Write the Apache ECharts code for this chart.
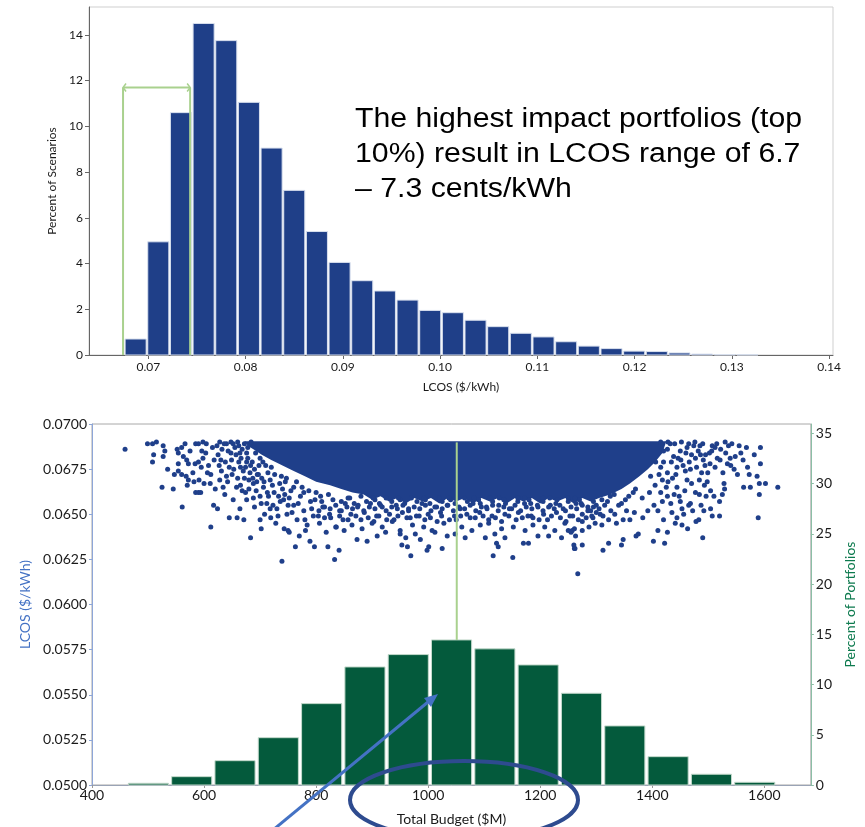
<!DOCTYPE html>
<html><head><meta charset="utf-8">
<script src="https://cdn.jsdelivr.net/npm/echarts@6/dist/echarts.min.js"></script>
<style>html,body{margin:0;padding:0;background:#fff}#c{width:865px;height:827px}</style>
</head><body><div id="c"></div>
<script>
// ---------- Top: LCOS histogram ----------
const lcosBinStart = 0.06753;
const lcosBinWidth = 0.00233;
const lcosPercent = [0.7, 4.95, 10.6, 14.5, 13.75, 11.05, 9.05, 7.2, 5.4, 4.05, 3.25, 2.8, 2.4, 1.95, 1.85, 1.52, 1.24, 0.95, 0.79, 0.58, 0.39, 0.28, 0.17, 0.15, 0.09, 0.04, 0.02, 0.01];
const lcosTicks = [0.07, 0.08, 0.09, 0.10, 0.11, 0.12, 0.13, 0.14];
const scenarioTicks = [0, 2, 4, 6, 8, 10, 12, 14];
const top10Range = [0.0674, 0.0743];
const top10BracketLevel = 11.7;
const annotationLines = ['The highest impact portfolios (top', '10%) result in LCOS range of 6.7', '\u2013 7.3 cents/kWh'];

// ---------- Bottom: budget histogram + LCOS scatter ----------
const budgetBinStart = 462;
const budgetBinWidth = 77.3;
const portfolioPercent = [0.17, 0.83, 2.42, 4.71, 8.1, 11.75, 12.98, 14.44, 13.55, 11.95, 9.13, 5.88, 2.82, 1.07, 0.27];
const budgetTicks = [400, 600, 800, 1000, 1200, 1400, 1600];
const lcosLeftTicks = [0.05, 0.0525, 0.055, 0.0575, 0.06, 0.0625, 0.065, 0.0675, 0.07];
const portfolioTicks = [0, 5, 10, 15, 20, 25, 30, 35];
const peakBudget = 1051;
const peakLinePercent = [14.44, 34.1];

// densest part of the scatter cloud (outline)
const denseCoreOutline = [[672,0.06905],[1425,0.06905],[1418,0.0684],[1405,0.0679],[1392,0.0675],[1377,0.0671],[1360,0.0667],[1345,0.0664],[1325,0.0661],[1305,0.0659],
[1290,0.0657],[1275,0.0659],[1260,0.0656],[1245,0.0659],[1230,0.0657],[1215,0.0659],[1200,0.0656],[1185,0.0659],[1170,0.0657],[1155,0.0659],[1140,0.0656],[1125,0.0659],[1110,0.0657],[1095,0.0659],[1080,0.0656],[1065,0.0659],[1050,0.0657],[1035,0.0659],[1020,0.0656],[1005,0.0659],[990,0.0657],[975,0.0659],[960,0.0656],[945,0.0659],[930,0.0657],[915,0.0660],[900,0.0658],[885,0.0661],
[865,0.0662],[845,0.0664],[825,0.0666],[800,0.0668],[780,0.0671],[760,0.0674],[740,0.0677],[720,0.0680],[703,0.0683],[688,0.0686],[678,0.0688]];

const portfolioPoints = [
[459,0.0686],[499,0.0689],[508,0.0689],[515,0.0690],[508,0.0679],[510,0.0683],[527,0.0688],[530,0.0685],[527,0.0682],[535,0.0675],[525,0.0665],[545,0.0664],[552,0.0686],[554,0.0684],[547,0.0672],[554,0.0674],[560,0.0672],[566,0.0689],[561,0.0654],[563,0.0682],[569,0.0680],[572,0.0678],[568,0.0671],[572,0.0669],[570,0.0666],[554,0.0678],[585,0.0689],[590,0.0689],[598,0.0690],[604,0.0689],[584,0.0678],[590,0.0679],[598,0.0681],[585,0.0662],[590,0.0662],[594,0.0662],[582,0.0668],[591,0.0669],[600,0.0667],[608,0.0677],[611,0.0667],[612,0.0643],[615,0.0687],[617,0.0655],[624,0.0653],[623,0.0688],[627,0.0677],[631,0.0674],[634,0.0665],[637,0.0661],[640,0.0689],[643,0.0685],[645,0.0648],[649,0.0680],[652,0.0658],[659,0.0648],[671,0.0647],[683,0.0637],[702,0.0642],[719,0.0648],[739,0.0624],[743,0.0642],[752,0.0640],[763,0.0632],[781,0.0641],[789,0.0635],[797,0.0632],[821,0.0632],[833,0.0625],
[665,0.0676],[672,0.0670],[680,0.0664],[688,0.0667],[695,0.0672],[700,0.0660],[706,0.0665],[712,0.0656],[718,0.0669],[725,0.0662],[730,0.0653],[735,0.0667],[742,0.0658],[748,0.0650],[755,0.0663],[760,0.0655],[766,0.0647],[772,0.0660],[778,0.0652],[784,0.0644],[790,0.0657],[795,0.0649],[800,0.0662],[806,0.0645],[812,0.0654],[818,0.0640],[824,0.0650],[830,0.0658],[836,0.0643],[842,0.0652],[676,0.0658],[690,0.0654],[708,0.0650],[728,0.0645],[750,0.0641],[770,0.0638],[660,0.0670],[668,0.0663],[682,0.0673],[698,0.0677],[714,0.0673],[738,0.0671],[648,0.0690],[660,0.0690],[672,0.0689],[655,0.0687],[668,0.0686],[684,0.0690],[678,0.0681],[692,0.0684],[705,0.0679],[720,0.0676],[745,0.0668],[760,0.0665],[778,0.0662],
[625,0.0683],[632,0.0686],[638,0.0679],[645,0.0676],[650,0.0672],[657,0.0683],[662,0.0679],[665,0.0666],[674,0.0676],[676,0.0684],[680,0.0669],[686,0.0679],[690,0.0675],[694,0.0668],[700,0.0681],[703,0.0670],[710,0.0677],[713,0.0662],[722,0.0666],[726,0.0672],[733,0.0660],[740,0.0664],[747,0.0670],[752,0.0659],[765,0.0668],[775,0.0665],[787,0.0663],[798,0.0658],[808,0.0660],[815,0.0648],[822,0.0661],[750,0.0655],[732,0.0649],[718,0.0653],[700,0.0647],[688,0.0659],[664,0.0653],[640,0.0671],[628,0.0669],[618,0.0680],[606,0.0673],[596,0.0685],
[560,0.0687],[575,0.0685],[580,0.0673],[595,0.0676],[603,0.0684],[612,0.0672],[620,0.0664],[630,0.0680],[636,0.0689],[642,0.0668],[648,0.0684],[653,0.0675],[658,0.0665],[662,0.0688],[666,0.0681],[670,0.0674],[674,0.0662],[678,0.0687],[683,0.0677],[687,0.0670],[693,0.0663],[697,0.0672],[702,0.0656],[707,0.0668],[715,0.0660],[723,0.0655],[736,0.0657],[744,0.0661],[757,0.0651],[768,0.0656],[780,0.0647],[792,0.0653],[804,0.0649],[810,0.0657],[628,0.0690],[652,0.0689],[664,0.0684],[676,0.0679],
[841,0.0630],[969,0.0627],[953,0.0633],[963,0.0632],[998,0.0630],[1001,0.0632],[1025,0.0631],[1116,0.0627],[1151,0.0626],[1267,0.0617],[1125,0.0632],[1122,0.0634],[1170,0.0634],[1179,0.0634],[1260,0.0633],[1261,0.0631],
[873,0.0636],[891,0.0635],[909,0.0638],[924,0.0640],[950,0.0639],[960,0.0637],[977,0.0639],[986,0.0636],[1012,0.0640],[1034,0.0638],[1048,0.0639],[1066,0.0637],[1102,0.0637],[1119,0.0639],[1137,0.0637],[1196,0.0638],[1215,0.0638],[1238,0.0637],[1250,0.0641],
[835,0.0643],[850,0.0641],[864,0.0644],[882,0.0642],[900,0.0645],[918,0.0643],[936,0.0646],[950,0.0641],[972,0.0644],[992,0.0643],[1007,0.0641],[1028,0.0645],[1060,0.0643],[1078,0.0641],[1093,0.0644],[1108,0.0645],[1131,0.0642],[1152,0.0643],[1173,0.0641],[1187,0.0644],[1208,0.0643],[1226,0.0641],[1244,0.0645],[1261,0.0642],
[852,0.0656],[874,0.0654],[897,0.0656],[918,0.0654],[943,0.0655],[965,0.0653],[989,0.0656],[1012,0.0654],[1034,0.0655],[1057,0.0653],[1080,0.0656],[1104,0.0654],[1126,0.0655],[1149,0.0653],[1172,0.0656],[1196,0.0654],[1218,0.0655],[1241,0.0653],[1264,0.0656],[1285,0.0654],
[862,0.0650],[886,0.0651],[908,0.0649],[931,0.0650],[954,0.0651],[979,0.0649],[1000,0.0650],[1022,0.0651],[1047,0.0649],[1069,0.0650],[1092,0.0651],[1114,0.0649],[1137,0.0650],[1161,0.0651],[1184,0.0649],[1206,0.0650],[1229,0.0651],[1253,0.0649],[1275,0.0650],[1300,0.0651],
[848,0.0647],[880,0.0647],[903,0.0646],[939,0.0647],[962,0.0648],[994,0.0647],[1016,0.0646],[1050,0.0647],[1075,0.0648],[1108,0.0647],[1131,0.0646],[1157,0.0647],[1187,0.0648],[1213,0.0647],[1246,0.0646],[1268,0.0647],[1294,0.0648],
[860,0.0659],[880,0.0660],[905,0.0658],[925,0.0659],[950,0.0658],[970,0.0659],[995,0.0658],[1020,0.0659],[1040,0.0658],[1065,0.0659],[1090,0.0658],[1110,0.0659],[1135,0.0658],[1160,0.0659],[1180,0.0658],[1205,0.0659],[1230,0.0658],[1250,0.0659],[1270,0.0658],
[805,0.0652],[815,0.0654],[825,0.0653],[835,0.0655],[845,0.0652],[855,0.0654],[865,0.0653],[875,0.0655],[885,0.0652],[895,0.0654],[905,0.0653],[915,0.0655],[925,0.0652],[935,0.0654],[945,0.0653],[955,0.0655],[965,0.0652],[975,0.0654],[985,0.0653],[995,0.0655],[1005,0.0652],[1015,0.0654],[1025,0.0653],[1035,0.0655],[1045,0.0652],[1055,0.0654],[1065,0.0653],[1075,0.0655],[1085,0.0652],[1095,0.0654],[1105,0.0653],[1115,0.0655],[1125,0.0652],[1135,0.0654],[1145,0.0653],[1155,0.0655],[1165,0.0652],[1175,0.0654],[1185,0.0653],[1195,0.0655],[1205,0.0652],[1215,0.0654],[1225,0.0653],[1235,0.0655],[1245,0.0652],[1255,0.0654],[1265,0.0653],[1275,0.0655],[1285,0.0652],[1295,0.0654],[1305,0.0653],[1315,0.0655],
[845,0.0657],[857,0.0659],[868,0.0656],[890,0.0657],[902,0.0659],[913,0.0656],[935,0.0657],[947,0.0659],[958,0.0656],[980,0.0657],[992,0.0659],[1003,0.0656],[1025,0.0657],[1037,0.0659],[1048,0.0656],[1070,0.0657],[1082,0.0659],[1093,0.0656],[1115,0.0657],[1127,0.0659],[1138,0.0656],[1160,0.0657],[1172,0.0659],[1183,0.0656],[1205,0.0657],[1217,0.0659],[1228,0.0656],[1250,0.0657],[1262,0.0659],[1273,0.0656],[1295,0.0657],[1310,0.0658],[1325,0.0660],
[826,0.0648],[842,0.0649],[857,0.0647],[871,0.0649],[893,0.0648],[912,0.0649],[926,0.0647],[946,0.0649],[968,0.0648],[984,0.0649],[1004,0.0648],[1024,0.0649],[1038,0.0647],[1058,0.0649],[1084,0.0648],[1098,0.0649],[1120,0.0648],[1144,0.0649],[1168,0.0648],[1178,0.0649],[1198,0.0647],[1220,0.0649],[1236,0.0648],[1258,0.0649],[1282,0.0648],[1312,0.0649],[1326,0.0652],[1340,0.0655],[1352,0.0658],[1366,0.0662],
[1312,0.0630],[1262,0.0631],[1275,0.0633],[1322,0.0634],[1345,0.0633],[1348,0.0636],[1371,0.0638],[1375,0.0639],[1402,0.0635],[1422,0.0634],[1490,0.0637],[1410,0.0641],[1427,0.0640],[1453,0.0644],[1463,0.0642],[1478,0.0646],[1483,0.0647],[1492,0.0652],[1507,0.0649],[1520,0.0649],[1589,0.0648],[1520,0.0657],[1525,0.0661],[1529,0.0664],[1528,0.0667],[1563,0.0665],[1575,0.0665],[1591,0.0667],[1602,0.0667],[1624,0.0665],[1591,0.0661],[1570,0.0676],[1573,0.0672],[1587,0.0671],[1593,0.0678],[1593,0.0687],[1555,0.0688],[1558,0.0684],[1507,0.0688],[1506,0.0685],[1522,0.0686],[1539,0.0681],[1534,0.0678],[1548,0.0682],[1499,0.0673],[1484,0.0669],[1504,0.0663],[1496,0.0660],[1484,0.0661],[1510,0.0660],
[1456,0.0650],[1465,0.0655],[1453,0.0653],[1444,0.0648],[1435,0.0651],[1462,0.0669],[1470,0.0667],[1444,0.0665],[1427,0.0660],[1418,0.0657],[1403,0.0655],[1392,0.0652],[1383,0.0648],[1368,0.0651],[1360,0.0647],[1348,0.0647],[1336,0.0645],[1322,0.0647],[1310,0.0644],[1298,0.0645],[1287,0.0643],[1275,0.0641],[1257,0.0641],[1263,0.0638],[1255,0.0640],[1275,0.0646],[1292,0.0649],[1307,0.0650],[1333,0.0650],[1354,0.0652],
[1427,0.0686],[1438,0.0682],[1450,0.0685],[1462,0.0687],[1470,0.0683],[1482,0.0685],[1491,0.0680],[1444,0.0676],[1459,0.0674],[1427,0.0673],[1415,0.0676],[1406,0.0679],[1479,0.0676],[1488,0.0673],[1397,0.0671],[1418,0.0669],
[1320,0.0657],[1332,0.0661],[1345,0.0656],[1358,0.0660],[1370,0.0664],[1382,0.0659],[1395,0.0662],[1405,0.0666],[1300,0.0655],[1290,0.0652],
[1412,0.0672],[1420,0.0679],[1425,0.0665],[1432,0.0689],[1436,0.0670],[1446,0.0681],[1448,0.0660],[1455,0.0677],[1458,0.0663],[1466,0.0679],[1468,0.0656],[1474,0.0688],[1486,0.0683],[1494,0.0677],[1498,0.0668],[1502,0.0684],[1512,0.0676],[1516,0.0681],[1526,0.0673],[1531,0.0684],[1540,0.0677],[1552,0.0672],[1562,0.0680],[1568,0.0687],[1582,0.0683],[1433,0.0656],[1441,0.0645],[1472,0.0652],[1487,0.0655],[1504,0.0653],
[1420,0.0685],[1434,0.0679],[1442,0.0672],[1451,0.0680],[1460,0.0684],[1468,0.0675],[1477,0.0681],[1485,0.0688],[1495,0.0683],[1503,0.0678],[1512,0.0687],[1521,0.0680],[1536,0.0688],[1546,0.0675],[1415,0.0662],[1428,0.0668],[1439,0.0661],[1450,0.0657],[1477,0.0662],[1493,0.0666],[1410,0.0652],[1420,0.0647],
[1415,0.0690],[1428,0.0690],[1440,0.0689],[1452,0.0690],[1465,0.0689],[1476,0.0690],[1490,0.0689],[1515,0.0689],[1530,0.0690],[1542,0.0689]
];

// ---------- build ----------
const lcosBars = lcosPercent.map((h, i) => [lcosBinStart + i * lcosBinWidth, lcosBinStart + (i + 1) * lcosBinWidth, h]);
const budgetBars = portfolioPercent.map((h, i) => [budgetBinStart + i * budgetBinWidth, budgetBinStart + (i + 1) * budgetBinWidth, h]);

const FONT = 'Lato';
const labelColor = '#1a1a1a';
const DOT = '#1f3f8a';

function histItem(fill, stroke, inset) {
  return function (params, api) {
    const p0 = api.coord([api.value(0), api.value(2)]);
    const p1 = api.coord([api.value(1), 0]);
    return {
      type: 'rect',
      shape: { x: p0[0] + inset, y: p0[1], width: p1[0] - p0[0] - 2 * inset, height: p1[1] - p0[1] },
      style: { fill: fill, stroke: stroke, lineWidth: 1 }
    };
  };
}

const chart = echarts.init(document.getElementById('c'), null, { renderer: 'canvas' });
chart.setOption({
  animation: false,
  backgroundColor: '#fff',
  grid: [
    { left: 89, right: 32, top: 7, height: 348, show: true, borderColor: '#cfcfcf', borderWidth: 1, backgroundColor: 'transparent' },
    { left: 92, right: 50, top: 424, height: 361, show: true, borderColor: '#a8a8a8', borderWidth: 1, backgroundColor: 'transparent' }
  ],
  xAxis: [
    {
      gridIndex: 0, type: 'value', min: 0.0639, max: 0.1404,
      name: 'LCOS ($/kWh)', nameLocation: 'middle', nameGap: 26,
      nameTextStyle: { fontFamily: FONT, fontSize: 12, color: labelColor },
      axisLine: { lineStyle: { color: '#666', width: 1 } },
      axisTick: { show: true, length: 4, lineStyle: { color: '#666' }, customValues: lcosTicks },
      axisLabel: { customValues: lcosTicks, formatter: v => v.toFixed(2), fontFamily: FONT, fontSize: 12, color: labelColor, margin: 6 },
      splitLine: { show: false }
    },
    {
      gridIndex: 1, type: 'value', min: 400, max: 1683,
      name: 'Total Budget ($M)', nameLocation: 'middle', nameGap: 27,
      nameTextStyle: { fontFamily: FONT, fontSize: 14, color: labelColor },
      axisLine: { lineStyle: { color: '#9aa3b5', width: 1 } },
      axisTick: { show: true, length: 3, lineStyle: { color: '#999' }, customValues: budgetTicks },
      axisLabel: { customValues: budgetTicks, formatter: v => String(Math.round(v)), fontFamily: FONT, fontSize: 14, color: labelColor, margin: 3 },
      splitLine: { show: false }
    }
  ],
  yAxis: [
    {
      gridIndex: 0, type: 'value', min: 0, max: 15.22,
      name: 'Percent of Scenarios', nameLocation: 'middle', nameGap: 28,
      nameTextStyle: { fontFamily: FONT, fontSize: 12, color: labelColor },
      axisLine: { show: true, lineStyle: { color: '#666', width: 1 } },
      axisTick: { show: true, length: 4, lineStyle: { color: '#666' }, customValues: scenarioTicks },
      axisLabel: { customValues: scenarioTicks, fontFamily: FONT, fontSize: 12, color: labelColor, margin: 6 },
      splitLine: { show: false }
    },
    {
      gridIndex: 1, type: 'value', min: 0.05, max: 0.07, position: 'left',
      name: 'LCOS ($/kWh)', nameLocation: 'middle', nameGap: 56,
      nameTextStyle: { fontFamily: FONT, fontSize: 14, color: '#4472c4' },
      axisLine: { show: true, lineStyle: { color: '#8ea6d8', width: 1 } },
      axisTick: { show: true, length: 3, lineStyle: { color: '#8ea6d8' }, customValues: lcosLeftTicks },
      axisLabel: { customValues: lcosLeftTicks, formatter: v => v.toFixed(4), fontFamily: FONT, fontSize: 14, color: labelColor, margin: 5 },
      splitLine: { show: false }
    },
    {
      gridIndex: 1, type: 'value', min: 0, max: 35.93, position: 'right',
      name: 'Percent of Portfolios', nameLocation: 'middle', nameGap: 28,
      nameTextStyle: { fontFamily: FONT, fontSize: 14, color: '#0d7a4e' },
      axisLine: { show: true, lineStyle: { color: '#8cbfa6', width: 1 } },
      axisTick: { show: true, length: 3, lineStyle: { color: '#8cbfa6' }, customValues: portfolioTicks },
      axisLabel: { customValues: portfolioTicks, fontFamily: FONT, fontSize: 14, color: labelColor, margin: 5 },
      splitLine: { show: false }
    }
  ],
  series: [
    {
      type: 'custom', name: 'LCOS histogram', xAxisIndex: 0, yAxisIndex: 0,
      data: lcosBars, encode: { x: [0, 1], y: 2 },
      renderItem: histItem('#1f3f88', '#d9e0ee', 0.8)
    },
    {
      type: 'custom', name: 'top 10% bracket', xAxisIndex: 0, yAxisIndex: 0,
      data: [[top10Range[0], top10Range[1], top10BracketLevel]], encode: { x: [0, 1], y: 2 },
      z: 5,
      renderItem: function (params, api) {
        const a0 = api.coord([api.value(0), 0]);
        const a1 = api.coord([api.value(0), api.value(2)]);
        const b0 = api.coord([api.value(1), 0]);
        const b1 = api.coord([api.value(1), api.value(2)]);
        const st = { stroke: '#a9d18e', lineWidth: 2, fill: null };
        return {
          type: 'group', children: [
            { type: 'line', shape: { x1: a0[0], y1: a0[1], x2: a1[0], y2: a1[1] }, style: st },
            { type: 'line', shape: { x1: b0[0], y1: b0[1], x2: b1[0], y2: b1[1] }, style: st },
            { type: 'line', shape: { x1: a1[0], y1: a1[1], x2: b1[0], y2: b1[1] }, style: st },
            { type: 'polyline', shape: { points: [[a1[0] + 3, a1[1] - 4], [a1[0], a1[1]], [a1[0] + 3, a1[1] + 4]] }, style: { stroke: '#a9d18e', lineWidth: 1.5, fill: null } },
            { type: 'polyline', shape: { points: [[b1[0] - 3, b1[1] - 4], [b1[0], b1[1]], [b1[0] - 3, b1[1] + 4]] }, style: { stroke: '#a9d18e', lineWidth: 1.5, fill: null } }
          ]
        };
      }
    },
    {
      type: 'custom', name: 'Budget histogram', xAxisIndex: 1, yAxisIndex: 2,
      data: budgetBars, encode: { x: [0, 1], y: 2 },
      renderItem: histItem('#045a3c', '#c3d9cb', 1.6)
    },
    {
      type: 'custom', name: 'dense core', xAxisIndex: 1, yAxisIndex: 1,
      data: denseCoreOutline, encode: { x: 0, y: 1 },
      renderItem: function (params, api) {
        if (params.dataIndex !== 0) return null;
        const pts = denseCoreOutline.map(p => api.coord(p));
        return { type: 'polygon', shape: { points: pts }, style: { fill: DOT } };
      }
    },
    {
      type: 'scatter', name: 'Portfolios', xAxisIndex: 1, yAxisIndex: 1,
      data: portfolioPoints, symbolSize: 5,
      itemStyle: { color: DOT, opacity: 1 }
    },
    {
      type: 'line', name: 'peak', xAxisIndex: 1, yAxisIndex: 2,
      data: [[peakBudget, peakLinePercent[0]], [peakBudget, peakLinePercent[1]]],
      symbol: 'none', z: 6,
      lineStyle: { color: '#a9d18e', width: 2 }
    }
  ],
  graphic: [
    { type: 'text', x: 355, y: 120, scaleX: 1.12, style: { text: annotationLines[0], font: '27px "Liberation Sans", Arial, sans-serif', fill: '#000', textAlign: 'left', textVerticalAlign: 'middle' } },
    { type: 'text', x: 355, y: 155, scaleX: 1.12, style: { text: annotationLines[1], font: '27px "Liberation Sans", Arial, sans-serif', fill: '#000', textAlign: 'left', textVerticalAlign: 'middle' } },
    { type: 'text', x: 355, y: 190, scaleX: 1.12, style: { text: annotationLines[2], font: '27px "Liberation Sans", Arial, sans-serif', fill: '#000', textAlign: 'left', textVerticalAlign: 'middle' } },
    { type: 'line', shape: { x1: 273, y1: 830, x2: 428, y2: 702 }, style: { stroke: '#4472c4', lineWidth: 3 }, z: 100 },
    { type: 'polygon', shape: { points: [[438, 694], [431, 707], [424, 698]] }, style: { fill: '#4472c4' }, z: 100 },
    { type: 'ellipse', shape: { cx: 464, cy: 800, rx: 114, ry: 39 }, style: { stroke: '#2e4b8f', lineWidth: 4, fill: null }, z: 100 }
  ]
});
</script>
</body></html>
